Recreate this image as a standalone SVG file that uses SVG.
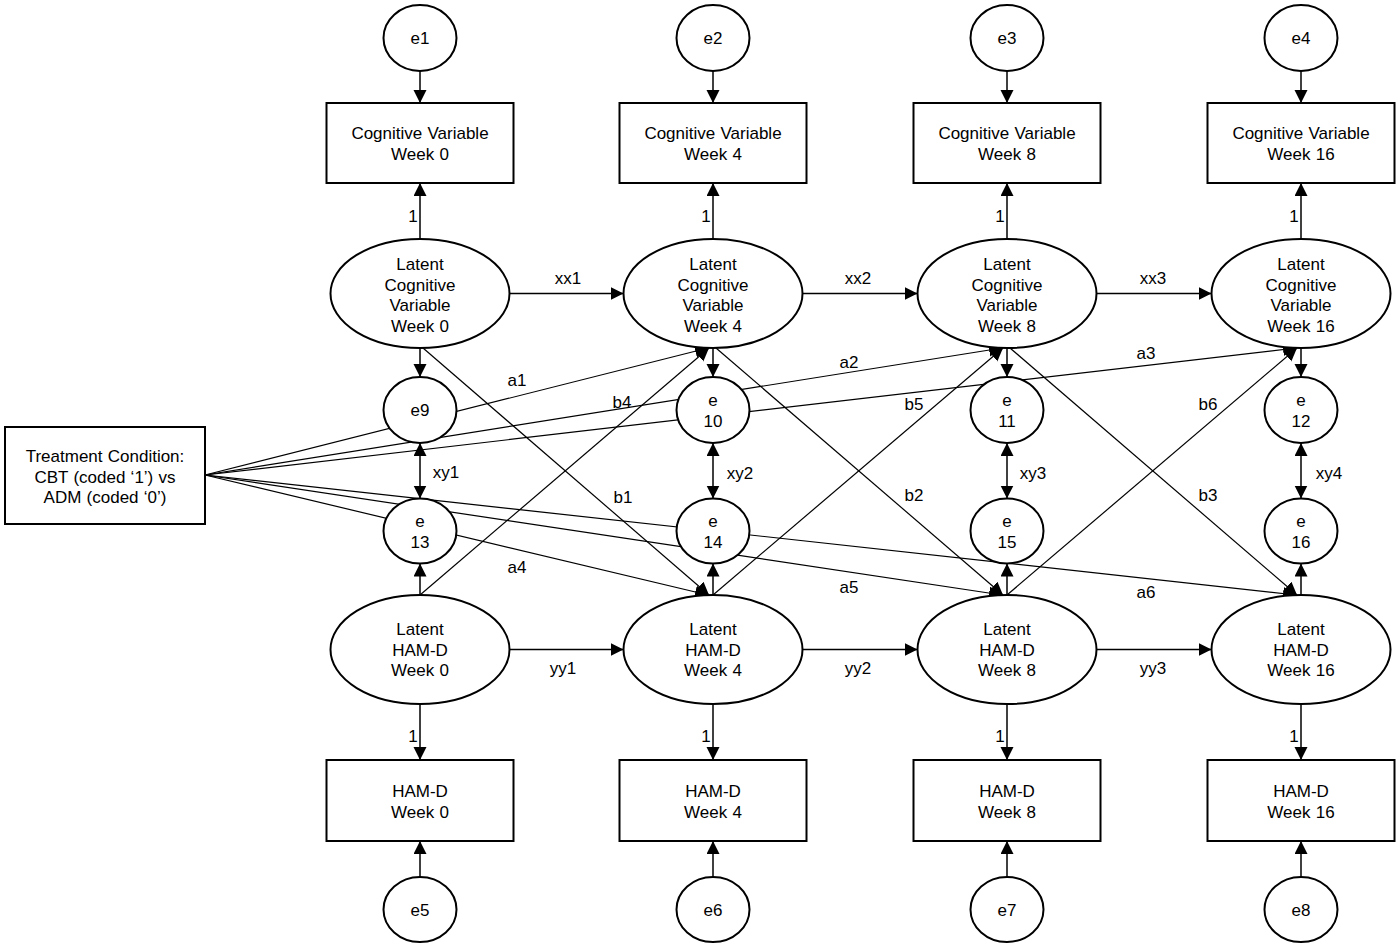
<svg xmlns="http://www.w3.org/2000/svg" width="1400" height="948" viewBox="0 0 1400 948">
<style>
text{font-family:"Liberation Sans",Arial,sans-serif;font-size:17px;fill:#000;text-anchor:middle;word-spacing:0.5px}
.n{fill:#fff;stroke:#000;stroke-width:2}
.c line{stroke:#000;stroke-width:1.5}
.c .d{stroke-width:1.2}
</style>
<defs>
<marker id="ah" markerUnits="userSpaceOnUse" markerWidth="14" markerHeight="14" refX="13" refY="6.5" orient="auto-start-reverse">
<path d="M0,0 L13,6.5 L0,13 z" fill="#000"/>
</marker>
</defs>
<rect width="1400" height="948" fill="#fff"/>
<g class="c" id="connectors">
<!-- treatment paths -->
<line class="d" x1="205" y1="475" x2="708" y2="348" marker-end="url(#ah)"/>
<line class="d" x1="205" y1="475" x2="1002" y2="348" marker-end="url(#ah)"/>
<line class="d" x1="205" y1="475" x2="1296" y2="348" marker-end="url(#ah)"/>
<line class="d" x1="205" y1="475" x2="708" y2="595" marker-end="url(#ah)"/>
<line class="d" x1="205" y1="475" x2="1002" y2="595" marker-end="url(#ah)"/>
<line class="d" x1="205" y1="475" x2="1296" y2="595" marker-end="url(#ah)"/>
<!-- cross lags -->
<line class="d" x1="423" y1="348" x2="709" y2="595" marker-end="url(#ah)"/>
<line class="d" x1="716" y1="348" x2="1003" y2="595" marker-end="url(#ah)"/>
<line class="d" x1="1010" y1="348" x2="1297" y2="595" marker-end="url(#ah)"/>
<line class="d" x1="420" y1="595" x2="709" y2="348" marker-end="url(#ah)"/>
<line class="d" x1="713" y1="595" x2="1003" y2="348" marker-end="url(#ah)"/>
<line class="d" x1="1007" y1="595" x2="1297" y2="348" marker-end="url(#ah)"/>
<!-- autoregressive -->
<line x1="509.5" y1="293.5" x2="623.5" y2="293.5" marker-end="url(#ah)"/>
<line x1="802.5" y1="293.5" x2="917.5" y2="293.5" marker-end="url(#ah)"/>
<line x1="1096.5" y1="293.5" x2="1211.5" y2="293.5" marker-end="url(#ah)"/>
<line x1="509.5" y1="649.5" x2="623.5" y2="649.5" marker-end="url(#ah)"/>
<line x1="802.5" y1="649.5" x2="917.5" y2="649.5" marker-end="url(#ah)"/>
<line x1="1096.5" y1="649.5" x2="1211.5" y2="649.5" marker-end="url(#ah)"/>
<!-- column 0 -->
<line x1="420" y1="71" x2="420" y2="103" marker-end="url(#ah)"/>
<line x1="420" y1="239" x2="420" y2="183" marker-end="url(#ah)"/>
<line x1="420" y1="348" x2="420" y2="377" marker-end="url(#ah)"/>
<line x1="420" y1="443" x2="420" y2="498.5" marker-start="url(#ah)" marker-end="url(#ah)"/>
<line x1="420" y1="595" x2="420" y2="563.5" marker-end="url(#ah)"/>
<line x1="420" y1="704" x2="420" y2="760" marker-end="url(#ah)"/>
<line x1="420" y1="877" x2="420" y2="841" marker-end="url(#ah)"/>
<!-- column 1 -->
<line x1="713" y1="71" x2="713" y2="103" marker-end="url(#ah)"/>
<line x1="713" y1="239" x2="713" y2="183" marker-end="url(#ah)"/>
<line x1="713" y1="348" x2="713" y2="377" marker-end="url(#ah)"/>
<line x1="713" y1="443" x2="713" y2="498.5" marker-start="url(#ah)" marker-end="url(#ah)"/>
<line x1="713" y1="595" x2="713" y2="563.5" marker-end="url(#ah)"/>
<line x1="713" y1="704" x2="713" y2="760" marker-end="url(#ah)"/>
<line x1="713" y1="877" x2="713" y2="841" marker-end="url(#ah)"/>
<!-- column 2 -->
<line x1="1007" y1="71" x2="1007" y2="103" marker-end="url(#ah)"/>
<line x1="1007" y1="239" x2="1007" y2="183" marker-end="url(#ah)"/>
<line x1="1007" y1="348" x2="1007" y2="377" marker-end="url(#ah)"/>
<line x1="1007" y1="443" x2="1007" y2="498.5" marker-start="url(#ah)" marker-end="url(#ah)"/>
<line x1="1007" y1="595" x2="1007" y2="563.5" marker-end="url(#ah)"/>
<line x1="1007" y1="704" x2="1007" y2="760" marker-end="url(#ah)"/>
<line x1="1007" y1="877" x2="1007" y2="841" marker-end="url(#ah)"/>
<!-- column 3 -->
<line x1="1301" y1="71" x2="1301" y2="103" marker-end="url(#ah)"/>
<line x1="1301" y1="239" x2="1301" y2="183" marker-end="url(#ah)"/>
<line x1="1301" y1="348" x2="1301" y2="377" marker-end="url(#ah)"/>
<line x1="1301" y1="443" x2="1301" y2="498.5" marker-start="url(#ah)" marker-end="url(#ah)"/>
<line x1="1301" y1="595" x2="1301" y2="563.5" marker-end="url(#ah)"/>
<line x1="1301" y1="704" x2="1301" y2="760" marker-end="url(#ah)"/>
<line x1="1301" y1="877" x2="1301" y2="841" marker-end="url(#ah)"/>
<!-- labels -->
<g id="edge-labels">
<text x="413" y="222">1</text><text x="706" y="222">1</text><text x="1000" y="222">1</text><text x="1294" y="222">1</text>
<text x="413" y="742">1</text><text x="706" y="742">1</text><text x="1000" y="742">1</text><text x="1294" y="742">1</text>
<text x="568" y="284">xx1</text><text x="858" y="284">xx2</text><text x="1153" y="284">xx3</text>
<text x="563" y="674">yy1</text><text x="858" y="674">yy2</text><text x="1153" y="674">yy3</text>
<text x="517" y="386">a1</text><text x="849" y="368">a2</text><text x="1146" y="359">a3</text>
<text x="517" y="573">a4</text><text x="849" y="593">a5</text><text x="1146" y="598">a6</text>
<text x="622" y="408">b4</text><text x="914" y="410">b5</text><text x="1208" y="410">b6</text>
<text x="623" y="503">b1</text><text x="914" y="501">b2</text><text x="1208" y="501">b3</text>
<text x="446" y="478">xy1</text><text x="740" y="479">xy2</text><text x="1033" y="479">xy3</text><text x="1329" y="479">xy4</text>
</g>
</g>
<!-- treatment -->
<g id="treatment"><rect class="n" x="5" y="427" width="200" height="97"/>
<text x="105" y="462">Treatment Condition:</text><text x="105" y="482.5">CBT (coded ‘1’) vs</text><text x="105" y="503">ADM (coded ‘0’)</text></g>
<!-- top errors -->
<g id="e1"><ellipse class="n" cx="420" cy="38" rx="36.5" ry="33"/><text x="420" y="44">e1</text></g>
<g id="e2"><ellipse class="n" cx="713" cy="38" rx="36.5" ry="33"/><text x="713" y="44">e2</text></g>
<g id="e3"><ellipse class="n" cx="1007" cy="38" rx="36.5" ry="33"/><text x="1007" y="44">e3</text></g>
<g id="e4"><ellipse class="n" cx="1301" cy="38" rx="36.5" ry="33"/><text x="1301" y="44">e4</text></g>
<!-- cognitive observed -->
<g id="cog0"><rect class="n" x="326.5" y="103" width="187" height="80"/><text x="420" y="139">Cognitive Variable</text><text x="420" y="160">Week 0</text></g>
<g id="cog4"><rect class="n" x="619.5" y="103" width="187" height="80"/><text x="713" y="139">Cognitive Variable</text><text x="713" y="160">Week 4</text></g>
<g id="cog8"><rect class="n" x="913.5" y="103" width="187" height="80"/><text x="1007" y="139">Cognitive Variable</text><text x="1007" y="160">Week 8</text></g>
<g id="cog16"><rect class="n" x="1207.5" y="103" width="187" height="80"/><text x="1301" y="139">Cognitive Variable</text><text x="1301" y="160">Week 16</text></g>
<!-- latent cognitive -->
<g id="lcog0"><ellipse class="n" cx="420" cy="293.5" rx="89.5" ry="54.5"/><text x="420" y="270">Latent</text><text x="420" y="290.5">Cognitive</text><text x="420" y="311">Variable</text><text x="420" y="331.5">Week 0</text></g>
<g id="lcog4"><ellipse class="n" cx="713" cy="293.5" rx="89.5" ry="54.5"/><text x="713" y="270">Latent</text><text x="713" y="290.5">Cognitive</text><text x="713" y="311">Variable</text><text x="713" y="331.5">Week 4</text></g>
<g id="lcog8"><ellipse class="n" cx="1007" cy="293.5" rx="89.5" ry="54.5"/><text x="1007" y="270">Latent</text><text x="1007" y="290.5">Cognitive</text><text x="1007" y="311">Variable</text><text x="1007" y="331.5">Week 8</text></g>
<g id="lcog16"><ellipse class="n" cx="1301" cy="293.5" rx="89.5" ry="54.5"/><text x="1301" y="270">Latent</text><text x="1301" y="290.5">Cognitive</text><text x="1301" y="311">Variable</text><text x="1301" y="331.5">Week 16</text></g>
<!-- mid errors -->
<g id="e9"><ellipse class="n" cx="420" cy="410" rx="36.5" ry="33"/><text x="420" y="416">e9</text></g>
<g id="e10"><ellipse class="n" cx="713" cy="410" rx="36.5" ry="33"/><text x="713" y="406">e</text><text x="713" y="426.5">10</text></g>
<g id="e11"><ellipse class="n" cx="1007" cy="410" rx="36.5" ry="33"/><text x="1007" y="406">e</text><text x="1007" y="426.5">11</text></g>
<g id="e12"><ellipse class="n" cx="1301" cy="410" rx="36.5" ry="33"/><text x="1301" y="406">e</text><text x="1301" y="426.5">12</text></g>
<g id="e13"><ellipse class="n" cx="420" cy="531" rx="36.5" ry="32.5"/><text x="420" y="527">e</text><text x="420" y="547.5">13</text></g>
<g id="e14"><ellipse class="n" cx="713" cy="531" rx="36.5" ry="32.5"/><text x="713" y="527">e</text><text x="713" y="547.5">14</text></g>
<g id="e15"><ellipse class="n" cx="1007" cy="531" rx="36.5" ry="32.5"/><text x="1007" y="527">e</text><text x="1007" y="547.5">15</text></g>
<g id="e16"><ellipse class="n" cx="1301" cy="531" rx="36.5" ry="32.5"/><text x="1301" y="527">e</text><text x="1301" y="547.5">16</text></g>
<!-- latent HAM-D -->
<g id="lham0"><ellipse class="n" cx="420" cy="649.5" rx="89.5" ry="54.5"/><text x="420" y="635">Latent</text><text x="420" y="655.5">HAM-D</text><text x="420" y="676">Week 0</text></g>
<g id="lham4"><ellipse class="n" cx="713" cy="649.5" rx="89.5" ry="54.5"/><text x="713" y="635">Latent</text><text x="713" y="655.5">HAM-D</text><text x="713" y="676">Week 4</text></g>
<g id="lham8"><ellipse class="n" cx="1007" cy="649.5" rx="89.5" ry="54.5"/><text x="1007" y="635">Latent</text><text x="1007" y="655.5">HAM-D</text><text x="1007" y="676">Week 8</text></g>
<g id="lham16"><ellipse class="n" cx="1301" cy="649.5" rx="89.5" ry="54.5"/><text x="1301" y="635">Latent</text><text x="1301" y="655.5">HAM-D</text><text x="1301" y="676">Week 16</text></g>
<!-- HAM-D observed -->
<g id="ham0"><rect class="n" x="326.5" y="760" width="187" height="81"/><text x="420" y="797">HAM-D</text><text x="420" y="817.5">Week 0</text></g>
<g id="ham4"><rect class="n" x="619.5" y="760" width="187" height="81"/><text x="713" y="797">HAM-D</text><text x="713" y="817.5">Week 4</text></g>
<g id="ham8"><rect class="n" x="913.5" y="760" width="187" height="81"/><text x="1007" y="797">HAM-D</text><text x="1007" y="817.5">Week 8</text></g>
<g id="ham16"><rect class="n" x="1207.5" y="760" width="187" height="81"/><text x="1301" y="797">HAM-D</text><text x="1301" y="817.5">Week 16</text></g>
<!-- bottom errors -->
<g id="e5"><ellipse class="n" cx="420" cy="909.5" rx="36.5" ry="32.5"/><text x="420" y="916">e5</text></g>
<g id="e6"><ellipse class="n" cx="713" cy="909.5" rx="36.5" ry="32.5"/><text x="713" y="916">e6</text></g>
<g id="e7"><ellipse class="n" cx="1007" cy="909.5" rx="36.5" ry="32.5"/><text x="1007" y="916">e7</text></g>
<g id="e8"><ellipse class="n" cx="1301" cy="909.5" rx="36.5" ry="32.5"/><text x="1301" y="916">e8</text></g>
</svg>
